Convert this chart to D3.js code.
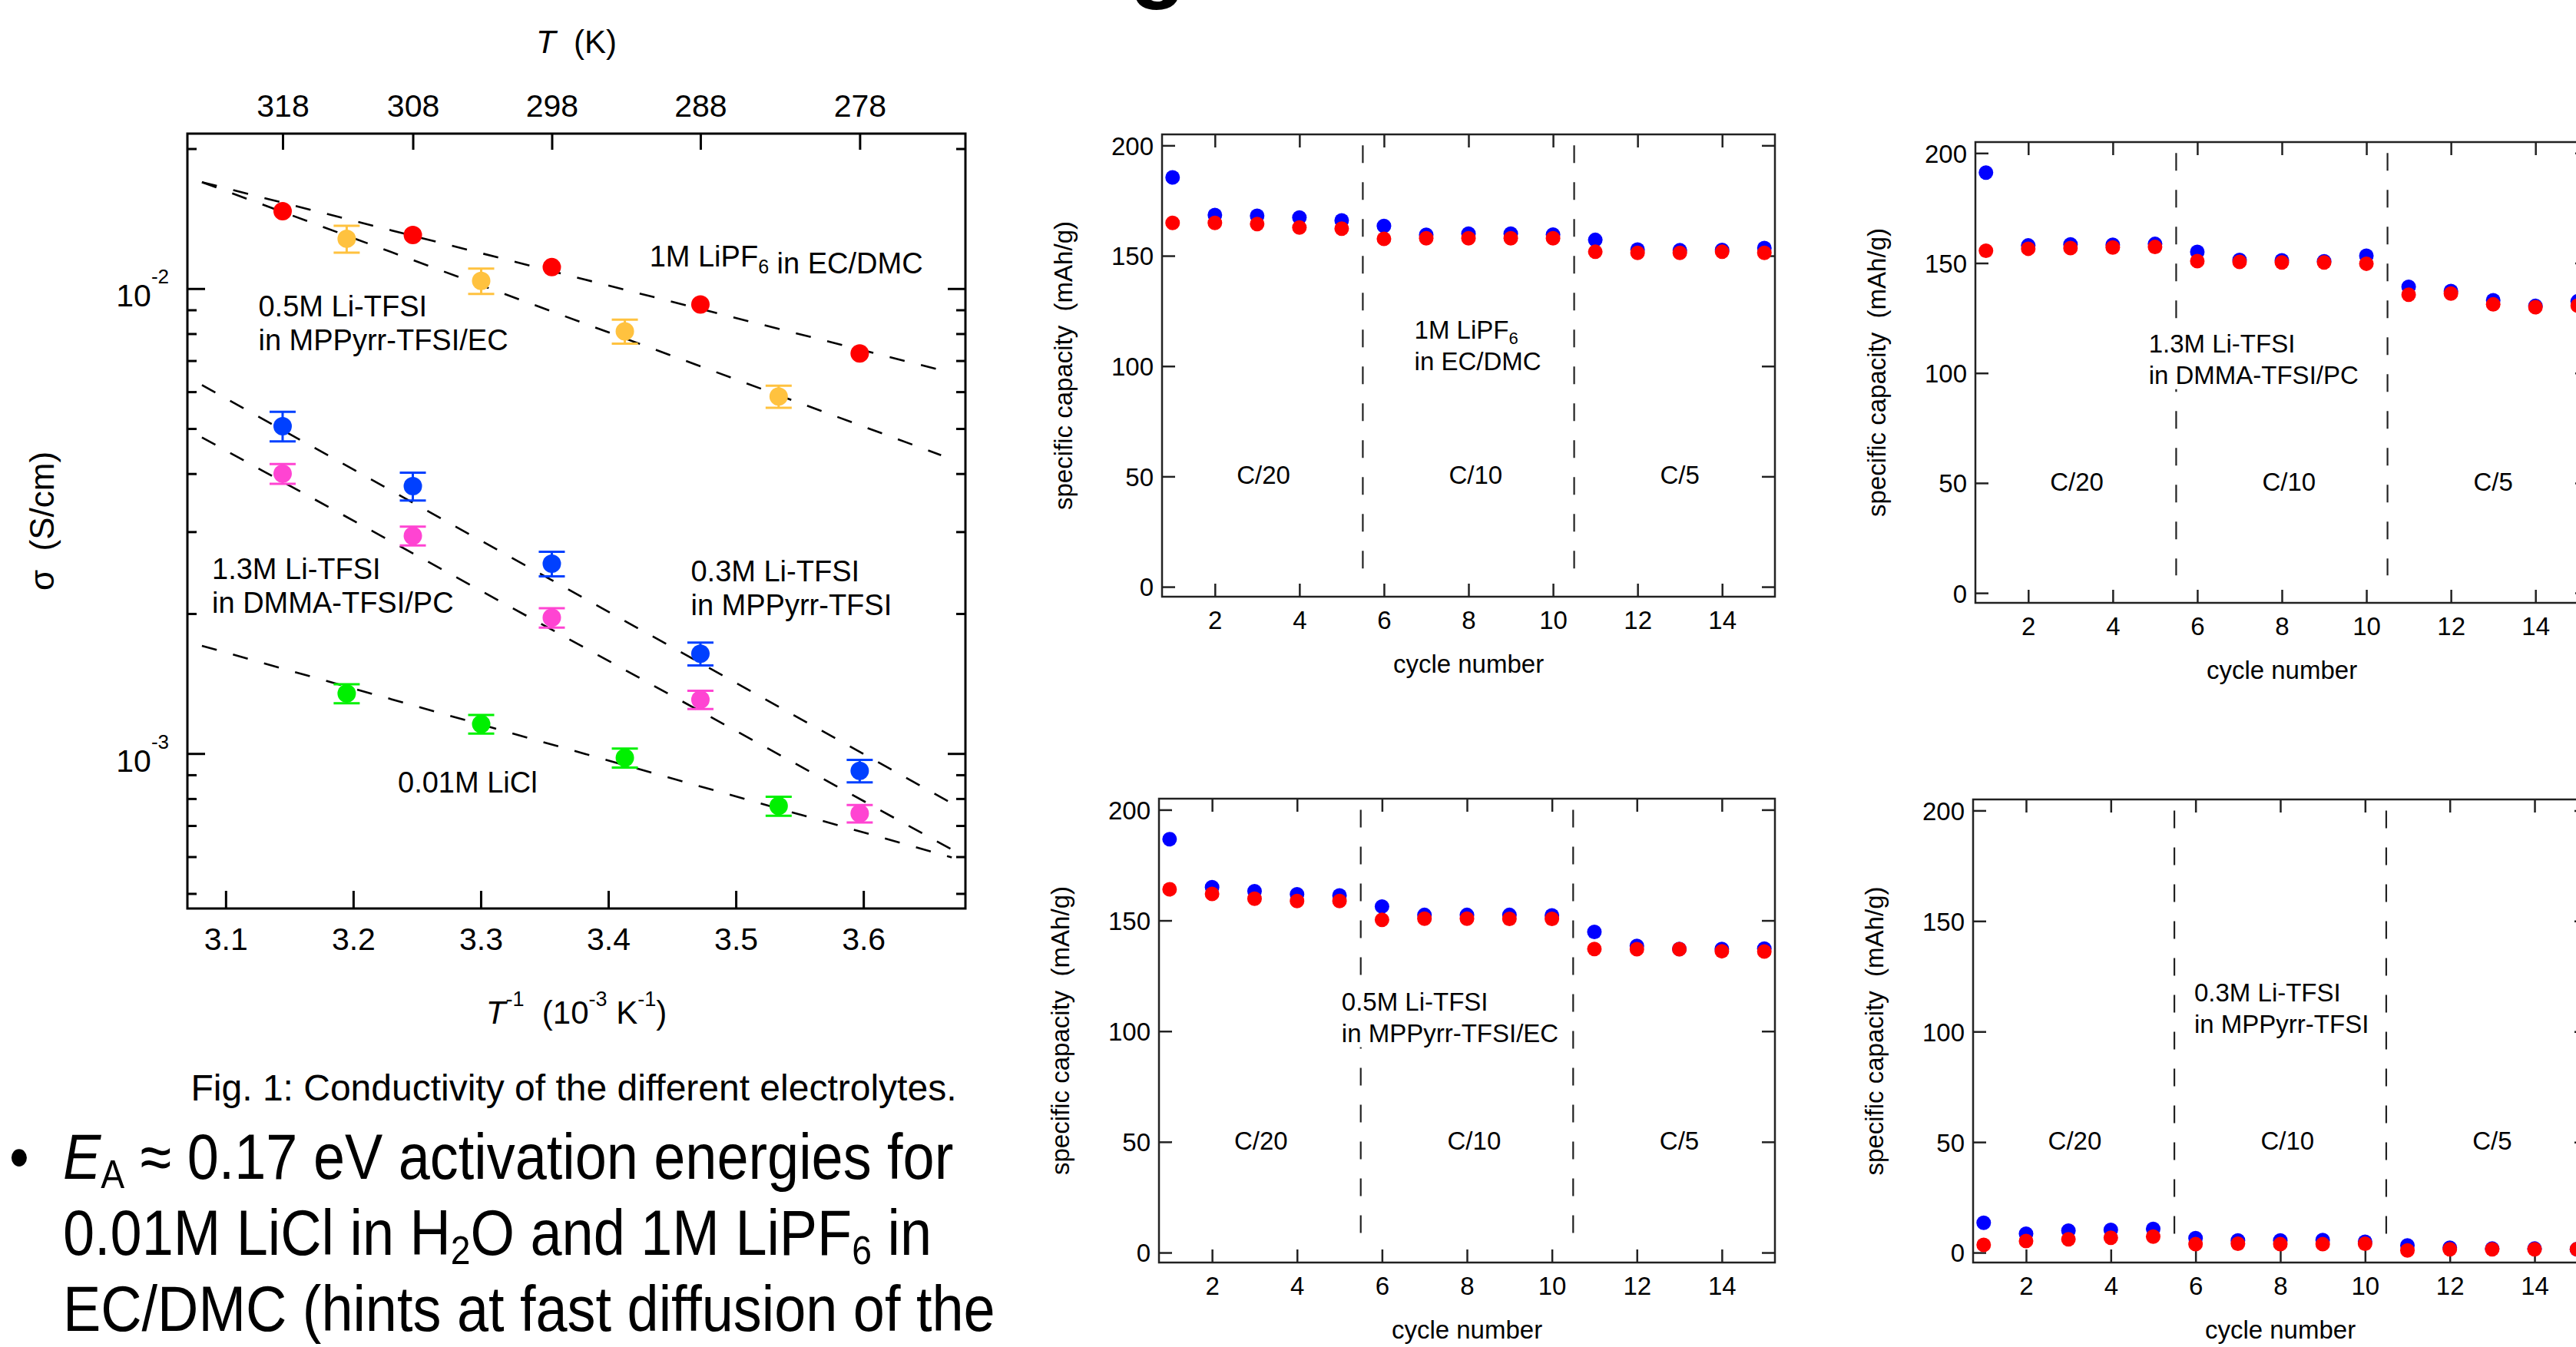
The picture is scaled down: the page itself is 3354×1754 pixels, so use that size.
<!DOCTYPE html>
<html><head><meta charset="utf-8">
<script src="https://cdn.jsdelivr.net/npm/d3@7/dist/d3.min.js"></script>
<style>html,body{margin:0;padding:0;background:#fff;overflow:hidden}</style>
</head><body>
<script>
// ================= DATA: Fig. 1 conductivity =================
const tempTicks = [318, 308, 298, 288, 278];           // top axis (K)
const invTTicks = [3.1, 3.2, 3.3, 3.4, 3.5, 3.6];      // bottom axis (1e-3/K)
const sigmaMajorTicks = [1e-3, 1e-2];
const sigmaMinorTicks = [5e-4, 6e-4, 7e-4, 8e-4, 9e-4, 2e-3, 3e-3, 4e-3, 5e-3, 6e-3, 7e-3, 8e-3, 9e-3, 2e-2];

const tempsA = [318, 308, 298, 288, 278];
const tempsB = [313, 303, 293, 283];

const sigmaLiPF6   = [0.01467, 0.01304, 0.01112, 0.00924, 0.00725];
const errLiPF6     = [0, 0, 0, 0, 0];
const sigmaMPPyrrEC = [0.0128, 0.01039, 0.00809, 0.00586];
const errMPPyrrEC   = [0.00085, 0.00065, 0.00048, 0.00032];
const sigmaMPPyrr  = [0.00506, 0.00376, 0.00256, 0.00164, 0.000918];
const errMPPyrr    = [0.00037, 0.00026, 0.000155, 0.000093, 0.000051];
const sigmaDMMA    = [0.00400, 0.00294, 0.00196, 0.001306, 0.000743];
const errDMMA      = [0.000196, 0.000137, 0.000094, 0.000059, 0.000032];
const sigmaLiCl    = [0.001346, 0.001157, 0.000979, 0.000771];
const errLiCl      = [0.000063, 0.000053, 0.000046, 0.000036];

// Arrhenius fit lines: [invT start, sigma start, invT end, sigma end]
const fitLiPF6    = [3.0814, 0.01694, 3.6571, 0.006718];
const fitMPPyrrEC = [3.0814, 0.01694, 3.6609, 0.004382];
const fitMPPyrr   = [3.0814, 0.006202, 3.6667, 0.000789];
const fitDMMA     = [3.0814, 0.004785, 3.6687, 0.000623];
const fitLiCl     = [3.0814, 0.001705, 3.6693, 0.000598];

// ================= DATA: cycling panels =================
const cycles = [1, 2, 3, 4, 5, 6, 7, 8, 9, 10, 11, 12, 13, 14, 15];
const cycleTicks = [2, 4, 6, 8, 10, 12, 14];
const capTicks = [0, 50, 100, 150, 200];
const rateLabels = ["C/20", "C/10", "C/5"];
const rateLabelCycle = [3.15, 8.17, 13.0];
const rateBoundaries = [5.5, 10.5];

const capLiPF6_blue = [185.5, 168.5, 168.1, 167.3, 166.0, 163.5, 159.5, 160.0, 160.0, 159.6, 157.2, 152.8, 152.5, 152.6, 153.5];
const capLiPF6_red  = [164.9, 164.9, 164.4, 162.8, 162.3, 157.7, 157.9, 157.9, 157.9, 157.9, 151.8, 151.3, 151.3, 151.8, 151.3];
const capDMMA_blue  = [191.1, 158.0, 158.5, 158.3, 158.7, 155.1, 151.4, 151.2, 150.8, 153.3, 139.2, 137.3, 133.1, 130.5, 132.6];
const capDMMA_red   = [155.6, 156.5, 156.8, 157.1, 157.3, 150.9, 150.5, 150.3, 150.3, 149.7, 135.6, 136.1, 131.2, 129.9, 130.6];
const capMPPyrrEC_blue = [186.7, 165.0, 163.2, 161.8, 161.3, 156.3, 152.5, 152.5, 152.5, 152.3, 144.8, 138.5, 137.1, 137.1, 137.3];
const capMPPyrrEC_red  = [164.1, 162.0, 159.8, 158.8, 158.8, 150.3, 150.8, 150.8, 150.7, 150.7, 137.1, 137.0, 137.0, 136.1, 136.0];
const capMPPyrr_blue = [13.5, 8.5, 9.9, 10.3, 10.7, 6.5, 5.5, 5.5, 5.7, 4.9, 3.2, 2.2, 1.8, 1.8, 1.5];
const capMPPyrr_red  = [3.5, 5.2, 6.0, 6.7, 7.2, 3.8, 4.0, 3.8, 3.8, 4.0, 1.0, 1.5, 1.5, 1.5, 1.5];

// ================= DRAWING =================
const FONT = "'Liberation Sans', Arial, Helvetica, sans-serif";
const W = 3354, H = 1754;
const svg = d3.select("body").append("svg").attr("width", W).attr("height", H)
  .attr("font-family", FONT).style("background", "#fff");

function styleAxis(g, stroke, sw, fs) {
  g.select(".domain").remove();
  g.selectAll(".tick line").attr("stroke", stroke).attr("stroke-width", sw);
  g.selectAll(".tick text").attr("fill", "#000").attr("font-size", fs).attr("font-family", FONT);
  g.attr("font-family", FONT);
}

// partial slide title glyph at the very top (cut off)
svg.append("text").attr("x", 1471).attr("y", -13).attr("font-size", 120)
  .attr("font-weight", "bold").attr("fill", "#000").text("g");

// ---------- Fig. 1 ----------
const L = {left: 244, top: 174, right: 1257, bottom: 1183};
const x = d3.scaleLinear([3.07, 3.68], [L.left, L.right]);
const y = d3.scaleLog([Math.pow(10, -3.3333), Math.pow(10, -1.6667)], [L.bottom, L.top]);

const series = [
  {T: tempsA, s: sigmaLiPF6, e: errLiPF6, fit: fitLiPF6, color: "#ff0000"},
  {T: tempsB, s: sigmaMPPyrrEC, e: errMPPyrrEC, fit: fitMPPyrrEC, color: "#ffc23f"},
  {T: tempsA, s: sigmaMPPyrr, e: errMPPyrr, fit: fitMPPyrr, color: "#0040ff"},
  {T: tempsA, s: sigmaDMMA, e: errDMMA, fit: fitDMMA, color: "#ff44d2"},
  {T: tempsB, s: sigmaLiCl, e: errLiCl, fit: fitLiCl, color: "#00f000"}
];

let g;
g = svg.append("g").attr("transform", `translate(0,${L.bottom})`)
  .call(d3.axisBottom(x).tickValues(invTTicks).tickSize(-23).tickPadding(25).tickFormat(d3.format(".1f")));
styleAxis(g, "#000", 3, 41);
g = svg.append("g").attr("transform", `translate(0,${L.top})`)
  .call(d3.axisTop(x).tickValues(tempTicks.map(t => 1000 / t)).tickSize(-21).tickPadding(22)
    .tickFormat((d, i) => tempTicks[i]));
styleAxis(g, "#000", 3, 41);
g = svg.append("g").attr("transform", `translate(${L.left},0)`)
  .call(d3.axisLeft(y).tickValues(sigmaMajorTicks).tickSize(-23).tickFormat(""));
styleAxis(g, "#000", 3, 41);
g = svg.append("g").attr("transform", `translate(${L.left},0)`)
  .call(d3.axisLeft(y).tickValues(sigmaMinorTicks).tickSize(-12).tickFormat(""));
styleAxis(g, "#000", 3, 41);
g = svg.append("g").attr("transform", `translate(${L.right},0)`)
  .call(d3.axisRight(y).tickValues(sigmaMajorTicks).tickSize(-23).tickFormat(""));
styleAxis(g, "#000", 3, 41);
g = svg.append("g").attr("transform", `translate(${L.right},0)`)
  .call(d3.axisRight(y).tickValues(sigmaMinorTicks).tickSize(-12).tickFormat(""));
styleAxis(g, "#000", 3, 41);

sigmaMajorTicks.forEach(v => {
  const t = svg.append("text").attr("x", L.left - 24).attr("y", y(v) + 23.5)
    .attr("text-anchor", "end").attr("font-size", 41).attr("fill", "#000");
  t.append("tspan").text("10");
  t.append("tspan").attr("dy", -30).attr("font-size", 26).text(String(Math.round(Math.log10(v))));
});

svg.append("rect").attr("x", L.left).attr("y", L.top).attr("width", L.right - L.left)
  .attr("height", L.bottom - L.top).attr("fill", "none").attr("stroke", "#000").attr("stroke-width", 3);

const fitLine = d3.line().x(d => x(d[0])).y(d => y(d[1]));
series.forEach(sr => {
  svg.append("path").attr("d", fitLine([[sr.fit[0], sr.fit[1]], [sr.fit[2], sr.fit[3]]]))
    .attr("fill", "none").attr("stroke", "#000").attr("stroke-width", 2.6)
    .attr("stroke-dasharray", "20,22");
});

series.forEach(sr => {
  const pts = sr.T.map((t, i) => ({x: 1000 / t, s: sr.s[i], e: sr.e[i]}));
  const eb = svg.append("g").attr("stroke", sr.color).attr("stroke-width", 3);
  pts.filter(p => p.e > 0).forEach(p => {
    const xp = x(p.x), y1 = y(p.s + p.e), y0 = y(p.s - p.e);
    eb.append("line").attr("x1", xp).attr("x2", xp).attr("y1", y1).attr("y2", y0);
    eb.append("line").attr("x1", xp - 17).attr("x2", xp + 17).attr("y1", y1).attr("y2", y1);
    eb.append("line").attr("x1", xp - 17).attr("x2", xp + 17).attr("y1", y0).attr("y2", y0);
  });
  svg.append("g").selectAll("circle").data(pts).join("circle")
    .attr("cx", p => x(p.x)).attr("cy", p => y(p.s)).attr("r", 12).attr("fill", sr.color);
});

function label(parent, px, py, lines, fs, lh, subSize, subDy, bg) {
  const grp = parent.append("g");
  const bgRect = bg ? grp.append("rect").attr("fill", "#fff") : null;
  lines.forEach((ln, k) => {
    const t = grp.append("text").attr("x", px).attr("y", py + k * lh)
      .attr("font-size", fs).attr("fill", "#000").style("white-space", "pre");
    ln.forEach(part => {
      if (typeof part === "string") t.append("tspan").text(part);
      else {
        t.append("tspan").attr("dy", subDy).attr("font-size", subSize).text(part.sub);
        t.append("tspan").attr("dy", -subDy).text("");
      }
    });
  });
  if (bg) {
    const texts = grp.selectAll("text").nodes();
    let x0 = Infinity, y0 = Infinity, x1 = -Infinity, y1 = -Infinity;
    texts.forEach(n => { const b = n.getBBox(); x0 = Math.min(x0, b.x); y0 = Math.min(y0, b.y);
      x1 = Math.max(x1, b.x + b.width); y1 = Math.max(y1, b.y + b.height); });
    bgRect.attr("x", x0 - 2).attr("y", y0 + 2).attr("width", x1 - x0 + 4).attr("height", y1 - y0 - 2);
  }
}
label(svg, x(3.4323), y(0.01115), [["1M LiPF", {sub: "6"}, " in EC/DMC"]], 38, 44, 25, 9);
label(svg, x(3.1257), y(0.008724), [["0.5M Li-TFSI"], ["in MPPyrr-TFSI/EC"]], 38, 44, 25, 9);
label(svg, x(3.0893), y(0.002370), [["1.3M Li-TFSI"], ["in DMMA-TFSI/PC"]], 38, 44, 25, 9);
label(svg, x(3.4647), y(0.002342), [["0.3M Li-TFSI"], ["in MPPyrr-TFSI"]], 38, 44, 25, 9);
label(svg, x(3.2350), y(0.000823), [["0.01M LiCl"]], 38, 44, 25, 9);

(function () {
  const cx = (L.left + L.right) / 2;
  const t1 = svg.append("text").attr("x", cx).attr("y", 69).attr("text-anchor", "middle")
    .attr("font-size", 42).attr("fill", "#000").style("white-space", "pre");
  t1.append("tspan").attr("font-style", "italic").text("T");
  t1.append("tspan").text("  (K)");

  const t2 = svg.append("text").attr("x", cx).attr("y", 1333).attr("text-anchor", "middle")
    .attr("font-size", 42).attr("fill", "#000").style("white-space", "pre");
  t2.append("tspan").attr("font-style", "italic").text("T");
  t2.append("tspan").attr("dy", -23).attr("font-size", 27).text("-1");
  t2.append("tspan").attr("dy", 23).text("  (10");
  t2.append("tspan").attr("dy", -23).attr("font-size", 27).text("-3");
  t2.append("tspan").attr("dy", 23).text(" K");
  t2.append("tspan").attr("dy", -23).attr("font-size", 27).text("-1");
  t2.append("tspan").attr("dy", 23).text(")");

  svg.append("text").attr("transform", `translate(70,${(L.top + L.bottom) / 2}) rotate(-90)`)
    .attr("text-anchor", "middle").attr("font-size", 44).attr("fill", "#000")
    .style("white-space", "pre").text("\u03c3  (S/cm)");

  svg.append("text").attr("x", 747).attr("y", 1433).attr("text-anchor", "middle")
    .attr("font-size", 48).attr("fill", "#000")
    .text("Fig. 1: Conductivity of the different electrolytes.");
})();

// bullet text (condensed face)
(function () {
  const fs = 83, sx = 0.89, sub = 52, sdy = 12;
  const B = svg.append("g").attr("transform", `scale(${sx},1)`);
  B.append("text").attr("x", 12 / sx).attr("y", 1535).attr("font-size", fs).attr("fill", "#000").text("\u2022");
  const l1 = B.append("text").attr("x", 82 / sx).attr("y", 1535).attr("font-size", fs).attr("fill", "#000").style("white-space", "pre");
  l1.append("tspan").attr("font-style", "italic").text("E");
  l1.append("tspan").attr("dy", sdy).attr("font-size", sub).text("A");
  l1.append("tspan").attr("dy", -sdy).text(" \u2248 0.17 eV activation energies for");
  const l2 = B.append("text").attr("x", 82 / sx).attr("y", 1634).attr("font-size", fs).attr("fill", "#000").style("white-space", "pre");
  l2.append("tspan").text("0.01M LiCl in H");
  l2.append("tspan").attr("dy", sdy).attr("font-size", sub).text("2");
  l2.append("tspan").attr("dy", -sdy).text("O and 1M LiPF");
  l2.append("tspan").attr("dy", sdy).attr("font-size", sub).text("6");
  l2.append("tspan").attr("dy", -sdy).text(" in");
  B.append("text").attr("x", 82 / sx).attr("y", 1733).attr("font-size", fs).attr("fill", "#000")
    .style("white-space", "pre").text("EC/DMC (hints at fast diffusion of the");
})();

// ---------- cycling panels ----------
const cycleDomain = [0.75, 15.25];
const capDomain = [-4.5, 205];

const panels = [
  {left: 1513, top: 175, w: 798, h: 602, blue: capLiPF6_blue, red: capLiPF6_red,
   lab: [["1M LiPF", {sub: "6"}], ["in EC/DMC"]], labX: 6.72, labY: 112.5},
  {left: 2572, top: 185, w: 798, h: 600, blue: capDMMA_blue, red: capDMMA_red,
   lab: [["1.3M Li-TFSI"], ["in DMMA-TFSI/PC"]], labX: 4.85, labY: 109.4},
  {left: 1509, top: 1040, w: 802, h: 604, blue: capMPPyrrEC_blue, red: capMPPyrrEC_red,
   lab: [["0.5M Li-TFSI"], ["in MPPyrr-TFSI/EC"]], labX: 5.05, labY: 109.4},
  {left: 2569, top: 1041, w: 800, h: 603, blue: capMPPyrr_blue, red: capMPPyrr_red,
   lab: [["0.3M Li-TFSI"], ["in MPPyrr-TFSI"]], labX: 5.97, labY: 113.6}
];

panels.forEach(p => {
  const px = d3.scaleLinear(cycleDomain, [p.left, p.left + p.w]);
  const py = d3.scaleLinear(capDomain, [p.top + p.h, p.top]);
  const G = svg.append("g");
  let a;
  a = G.append("g").attr("transform", `translate(0,${p.top + p.h})`)
    .call(d3.axisBottom(px).tickValues(cycleTicks).tickSize(-17).tickPadding(19));
  styleAxis(a, "#222", 2.5, 33);
  a = G.append("g").attr("transform", `translate(0,${p.top})`)
    .call(d3.axisTop(px).tickValues(cycleTicks).tickSize(-17).tickFormat(""));
  styleAxis(a, "#222", 2.5, 33);
  a = G.append("g").attr("transform", `translate(${p.left},0)`)
    .call(d3.axisLeft(py).tickValues(capTicks).tickSize(-17).tickPadding(11));
  styleAxis(a, "#222", 2.5, 33);
  a.selectAll(".tick text").attr("dy", "0.36em");
  a = G.append("g").attr("transform", `translate(${p.left + p.w},0)`)
    .call(d3.axisRight(py).tickValues(capTicks).tickSize(-17).tickFormat(""));
  styleAxis(a, "#222", 2.5, 33);

  G.append("rect").attr("x", p.left).attr("y", p.top).attr("width", p.w).attr("height", p.h)
    .attr("fill", "none").attr("stroke", "#222").attr("stroke-width", 2.5);

  rateBoundaries.forEach(b => {
    G.append("line").attr("x1", px(b)).attr("x2", px(b)).attr("y1", py(200)).attr("y2", py(8))
      .attr("stroke", "#222").attr("stroke-width", 2.2).attr("stroke-dasharray", "23,25");
  });

  rateLabels.forEach((r, i) => {
    G.append("text").attr("x", px(rateLabelCycle[i])).attr("y", py(46.5)).attr("text-anchor", "middle")
      .attr("font-size", 33).attr("fill", "#000").text(r);
  });

  label(G, px(p.labX), py(p.labY), p.lab, 33, 41, 22, 7, true);

  G.append("g").selectAll("circle").data(cycles).join("circle")
    .attr("cx", c => px(c)).attr("cy", (c, i) => py(p.blue[i])).attr("r", 9.5).attr("fill", "#0000ff");
  G.append("g").selectAll("circle").data(cycles).join("circle")
    .attr("cx", c => px(c)).attr("cy", (c, i) => py(p.red[i])).attr("r", 9.5).attr("fill", "#ff0000");

  G.append("text").attr("x", p.left + p.w / 2).attr("y", p.top + p.h + 99).attr("text-anchor", "middle")
    .attr("font-size", 33).attr("fill", "#000").text("cycle number");
  G.append("text").attr("transform", `translate(${p.left - 117},${p.top + p.h / 2}) rotate(-90)`)
    .attr("text-anchor", "middle").attr("font-size", 33).attr("fill", "#000")
    .style("white-space", "pre").text("specific capacity  (mAh/g)");
});
</script>
</body></html>
